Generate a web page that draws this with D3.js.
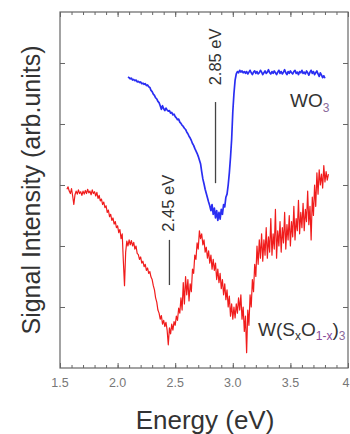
<!DOCTYPE html>
<html>
<head>
<meta charset="utf-8">
<script src="https://cdn.jsdelivr.net/npm/d3@7"></script>
<style>
  html, body { margin: 0; padding: 0; background: #fff; }
  svg { display: block; }
  text { font-family: "Liberation Sans", Arial, sans-serif; }
</style>
</head>
<body>
<svg id="chart" width="350" height="434"></svg>
<script>
// ---------- data ----------
const xTickValues = [1.5, 2.0, 2.5, 3.0, 3.5, 4.0];
const xTickLabels = ["1.5", "2.0", "2.5", "3.0", "3.5", "4"];
const yTickValues = [1, 2, 3, 4, 5];

const wo3Data = [
[2.09,4.77],[2.10,4.76],[2.11,4.74],[2.12,4.75],[2.13,4.72],[2.14,4.73],[2.15,4.71],[2.16,4.72],[2.17,4.69],[2.18,4.70],
[2.19,4.68],[2.20,4.69],[2.21,4.66],[2.22,4.67],[2.23,4.65],[2.24,4.66],[2.25,4.63],[2.26,4.64],[2.27,4.61],[2.28,4.60],
[2.29,4.55],[2.30,4.53],[2.31,4.49],[2.32,4.47],[2.33,4.43],[2.34,4.41],[2.35,4.37],[2.36,4.35],[2.37,4.30],[2.38,4.24],
[2.39,4.30],[2.40,4.25],[2.41,4.22],[2.42,4.26],[2.43,4.23],[2.44,4.21],[2.45,4.22],[2.46,4.18],[2.47,4.19],[2.48,4.15],
[2.49,4.16],[2.50,4.12],[2.51,4.10],[2.52,4.07],[2.53,4.08],[2.54,4.03],[2.55,4.01],[2.56,3.98],[2.57,3.96],[2.58,3.93],
[2.59,3.91],[2.60,3.87],[2.61,3.84],[2.62,3.80],[2.63,3.77],[2.64,3.73],[2.65,3.68],[2.66,3.65],[2.67,3.60],[2.68,3.56],
[2.69,3.52],[2.70,3.47],[2.71,3.41],[2.72,3.35],[2.73,3.22],[2.74,3.10],[2.75,3.02],[2.76,2.93],[2.77,2.86],[2.78,2.79],
[2.79,2.72],[2.80,2.66],[2.81,2.58],[2.82,2.68],[2.83,2.52],[2.84,2.62],[2.85,2.46],[2.86,2.58],[2.87,2.42],[2.88,2.55],
[2.89,2.44],[2.90,2.60],[2.91,2.52],[2.92,2.68],[2.93,2.64],[2.94,2.80],[2.95,2.85],[2.96,3.00],[2.97,3.20],[2.98,3.45],
[2.99,3.75],[3.00,4.20],[3.01,4.50],[3.02,4.72],[3.03,4.82],[3.04,4.86],[3.05,4.84],[3.06,4.88],[3.07,4.85],[3.08,4.87],
[3.09,4.84],[3.10,4.86],[3.11,4.83],[3.12,4.86],[3.13,4.82],[3.14,4.85],[3.15,4.88],[3.16,4.84],[3.17,4.81],[3.18,4.85],
[3.19,4.87],[3.20,4.83],[3.21,4.86],[3.22,4.82],[3.23,4.84],[3.24,4.88],[3.25,4.85],[3.26,4.81],[3.27,4.84],[3.28,4.87],
[3.29,4.83],[3.30,4.85],[3.31,4.89],[3.32,4.84],[3.33,4.82],[3.34,4.86],[3.35,4.83],[3.36,4.87],[3.37,4.84],[3.38,4.81],
[3.39,4.85],[3.40,4.88],[3.41,4.83],[3.42,4.86],[3.43,4.82],[3.44,4.85],[3.45,4.89],[3.46,4.84],[3.47,4.81],[3.48,4.86],
[3.49,4.83],[3.50,4.87],[3.51,4.84],[3.52,4.82],[3.53,4.86],[3.54,4.88],[3.55,4.83],[3.56,4.85],[3.57,4.81],[3.58,4.86],
[3.59,4.84],[3.60,4.88],[3.61,4.83],[3.62,4.85],[3.63,4.82],[3.64,4.87],[3.65,4.84],[3.66,4.80],[3.67,4.85],[3.68,4.88],
[3.69,4.83],[3.70,4.86],[3.71,4.81],[3.72,4.84],[3.73,4.87],[3.74,4.82],[3.75,4.78],[3.76,4.84],[3.77,4.80],[3.78,4.76],
[3.79,4.79],[3.80,4.75]
];

const wsoData = [
[1.56,2.93],[1.57,2.97],[1.58,2.90],[1.59,2.86],[1.60,2.94],[1.61,2.82],[1.62,2.68],[1.63,2.84],[1.64,2.90],[1.65,2.85],
[1.66,2.92],[1.67,2.86],[1.68,2.89],[1.69,2.83],[1.70,2.90],[1.71,2.85],[1.72,2.91],[1.73,2.86],[1.74,2.93],[1.75,2.87],
[1.76,2.90],[1.77,2.84],[1.78,2.92],[1.79,2.86],[1.80,2.89],[1.81,2.82],[1.82,2.88],[1.83,2.78],[1.84,2.83],[1.85,2.74],
[1.86,2.77],[1.87,2.68],[1.88,2.72],[1.89,2.63],[1.90,2.66],[1.91,2.55],[1.92,2.59],[1.93,2.48],[1.94,2.52],[1.95,2.42],
[1.96,2.46],[1.97,2.36],[1.98,2.40],[1.99,2.30],[2.00,2.33],[2.01,2.22],[2.02,2.27],[2.03,2.12],[2.04,2.20],[2.05,1.75],
[2.06,1.35],[2.07,1.90],[2.08,2.08],[2.09,2.00],[2.10,2.10],[2.11,2.02],[2.12,2.09],[2.13,2.00],[2.14,2.06],[2.15,1.95],
[2.16,2.00],[2.17,1.88],[2.18,1.86],[2.19,1.78],[2.20,1.82],[2.21,1.72],[2.22,1.75],[2.23,1.66],[2.24,1.70],[2.25,1.60],
[2.26,1.64],[2.27,1.55],[2.28,1.58],[2.29,1.49],[2.30,1.45],[2.31,1.35],[2.32,1.28],[2.33,1.15],[2.34,1.08],[2.35,0.95],
[2.36,0.90],[2.37,0.80],[2.38,0.86],[2.39,0.72],[2.40,0.78],[2.41,0.68],[2.42,0.75],[2.43,0.62],[2.44,0.38],[2.45,0.66],
[2.46,0.56],[2.47,0.72],[2.48,0.62],[2.49,0.76],[2.50,0.70],[2.51,0.85],[2.52,0.78],[2.53,0.98],[2.54,0.90],[2.55,1.15],
[2.56,0.95],[2.57,1.40],[2.58,1.05],[2.59,1.50],[2.60,1.20],[2.61,1.45],[2.62,1.10],[2.63,1.38],[2.64,1.25],[2.65,1.62],
[2.66,1.55],[2.67,1.85],[2.68,1.78],[2.69,2.05],[2.70,1.95],[2.71,2.25],[2.72,2.12],[2.73,2.20],[2.74,2.02],[2.75,2.10],
[2.76,1.90],[2.77,1.98],[2.78,1.80],[2.79,1.92],[2.80,1.72],[2.81,1.85],[2.82,1.62],[2.83,1.78],[2.84,1.60],[2.85,1.72],
[2.86,1.45],[2.87,1.62],[2.88,1.40],[2.89,1.55],[2.90,1.30],[2.91,1.45],[2.92,1.20],[2.93,1.38],[2.94,1.12],[2.95,1.28],
[2.96,1.00],[2.97,1.18],[2.98,0.85],[2.99,1.05],[3.00,0.80],[3.01,1.00],[3.02,0.82],[3.03,1.05],[3.04,0.90],[3.05,1.15],
[3.06,0.95],[3.07,1.20],[3.08,0.80],[3.09,1.00],[3.10,0.60],[3.11,0.85],[3.12,0.25],[3.13,0.95],[3.14,0.70],[3.15,1.20],
[3.16,1.00],[3.17,1.45],[3.18,1.25],[3.19,1.70],[3.20,1.50],[3.21,2.00],[3.22,1.70],[3.23,2.10],[3.24,1.80],[3.25,2.20],
[3.26,1.75],[3.27,2.10],[3.28,1.85],[3.29,2.30],[3.30,1.80],[3.31,2.15],[3.32,1.90],[3.33,2.45],[3.34,1.85],[3.35,2.20],
[3.36,1.95],[3.37,2.60],[3.38,1.80],[3.39,2.25],[3.40,2.00],[3.41,2.40],[3.42,1.90],[3.43,2.30],[3.44,2.05],[3.45,2.55],
[3.46,1.95],[3.47,2.35],[3.48,2.10],[3.49,2.50],[3.50,2.00],[3.51,2.40],[3.52,2.15],[3.53,2.65],[3.54,2.10],[3.55,2.45],
[3.56,2.25],[3.57,2.75],[3.58,2.20],[3.59,2.55],[3.60,2.30],[3.61,2.70],[3.62,2.25],[3.63,2.60],[3.64,2.40],[3.65,2.90],
[3.66,2.35],[3.67,2.65],[3.68,2.10],[3.69,2.80],[3.70,2.50],[3.71,3.00],[3.72,2.65],[3.73,3.20],[3.74,2.85],[3.75,3.25],
[3.76,3.00],[3.77,3.18],[3.78,2.95],[3.79,3.32],[3.80,3.05],[3.81,3.22],[3.82,3.08],[3.83,3.18]
];

// annotation markers: energy, line from/to (signal units), label position (signal units)
const markerLabels = ["2.85 eV", "2.45 eV"];
const markerEnergy = [2.85, 2.45];
const markerLineTop = [4.36, 2.10];
const markerLineBottom = [3.03, 1.36];
const markerTextCenter = [5.10, 2.70];

// ---------- layout ----------
const svg = d3.select("#chart");
const plotLeft = 60, plotRight = 348, plotTop = 12, plotBottom = 368;

const x = d3.scaleLinear().domain([1.5, 4.0]).range([plotLeft, plotRight]);
const y = d3.scaleLinear().domain([0, 5.836]).range([plotBottom, plotTop]);

const axisColor = "#666";
const minorTicks = d3.range(15, 41).map(d => d / 10);

// frame
svg.append("rect")
  .attr("x", plotLeft).attr("y", plotTop)
  .attr("width", plotRight - plotLeft).attr("height", plotBottom - plotTop)
  .attr("fill", "none").attr("stroke", axisColor).attr("stroke-width", 1.2);

function styleAxis(g) {
  g.select(".domain").remove();
  g.selectAll("line").attr("stroke", axisColor);
}

// bottom axis (ticks inward)
svg.append("g").attr("transform", `translate(0,${plotBottom})`)
  .call(d3.axisTop(x).tickValues(minorTicks).tickSize(3).tickFormat("")).call(styleAxis);
svg.append("g").attr("transform", `translate(0,${plotBottom})`)
  .call(d3.axisTop(x).tickValues(xTickValues).tickSize(5).tickFormat("")).call(styleAxis);

// tick labels
svg.append("g").selectAll("text").data(xTickValues).join("text")
  .attr("x", d => x(d)).attr("y", plotBottom + 19)
  .attr("dx", (d, i) => i === xTickValues.length - 1 ? -2 : 0)
  .attr("text-anchor", "middle")
  .attr("font-size", 12.5).attr("fill", "#777")
  .text((d, i) => xTickLabels[i]);

// top axis (ticks inward)
svg.append("g").attr("transform", `translate(0,${plotTop})`)
  .call(d3.axisBottom(x).tickValues(minorTicks).tickSize(3).tickFormat("")).call(styleAxis);
svg.append("g").attr("transform", `translate(0,${plotTop})`)
  .call(d3.axisBottom(x).tickValues(xTickValues).tickSize(5).tickFormat("")).call(styleAxis);

// left / right axes (ticks inward, no labels)
svg.append("g").attr("transform", `translate(${plotLeft},0)`)
  .call(d3.axisRight(y).tickValues(yTickValues).tickSize(5).tickFormat("")).call(styleAxis);
svg.append("g").attr("transform", `translate(${plotRight},0)`)
  .call(d3.axisLeft(y).tickValues(yTickValues).tickSize(5).tickFormat("")).call(styleAxis);

// axis titles
svg.append("text")
  .attr("x", 205).attr("y", 429)
  .attr("text-anchor", "middle")
  .attr("font-size", 26).attr("fill", "#333")
  .text("Energy (eV)");
svg.append("text")
  .attr("transform", "translate(40,190) rotate(-90)")
  .attr("text-anchor", "middle")
  .attr("font-size", 25).attr("fill", "#333")
  .text("Signal Intensity (arb.units)");

// curves
const line = d3.line().x(d => x(d[0])).y(d => y(d[1]));
svg.append("path").datum(wsoData)
  .attr("d", line).attr("fill", "none")
  .attr("stroke", "#f01c1c").attr("stroke-width", 1.2)
  .attr("stroke-linejoin", "round");
svg.append("path").datum(wo3Data)
  .attr("d", line).attr("fill", "none")
  .attr("stroke", "#2a2ef2").attr("stroke-width", 1.7)
  .attr("stroke-linejoin", "round");

// markers
markerEnergy.forEach((e, i) => {
  svg.append("line")
    .attr("x1", x(e)).attr("x2", x(e))
    .attr("y1", y(markerLineTop[i])).attr("y2", y(markerLineBottom[i]))
    .attr("stroke", "#444").attr("stroke-width", 1.3);
  svg.append("text")
    .attr("transform", `translate(${x(e) + 5},${y(markerTextCenter[i])}) rotate(-90)`)
    .attr("text-anchor", "middle")
    .attr("font-size", 16.5).attr("fill", "#333")
    .text(markerLabels[i]);
});

// series labels
const t1 = svg.append("text").attr("x", 290).attr("y", 107)
  .attr("font-size", 19).attr("fill", "#333");
t1.append("tspan").text("WO");
t1.append("tspan").attr("font-size", 12).attr("dy", 5).attr("fill", "#8a6a9a").text("3");

const t2 = svg.append("text").attr("x", 258).attr("y", 336)
  .attr("font-size", 19).attr("fill", "#333");
t2.append("tspan").text("W(S");
t2.append("tspan").attr("font-size", 12).attr("dy", 4).text("x");
t2.append("tspan").attr("dy", -4).text("O");
t2.append("tspan").attr("font-size", 12).attr("dy", 4).attr("fill", "#8a4a9a").text("1-x");
t2.append("tspan").attr("dy", -4).text(")");
t2.append("tspan").attr("font-size", 12).attr("dy", 4).attr("fill", "#8a6a9a").text("3");
</script>
</body>
</html>
